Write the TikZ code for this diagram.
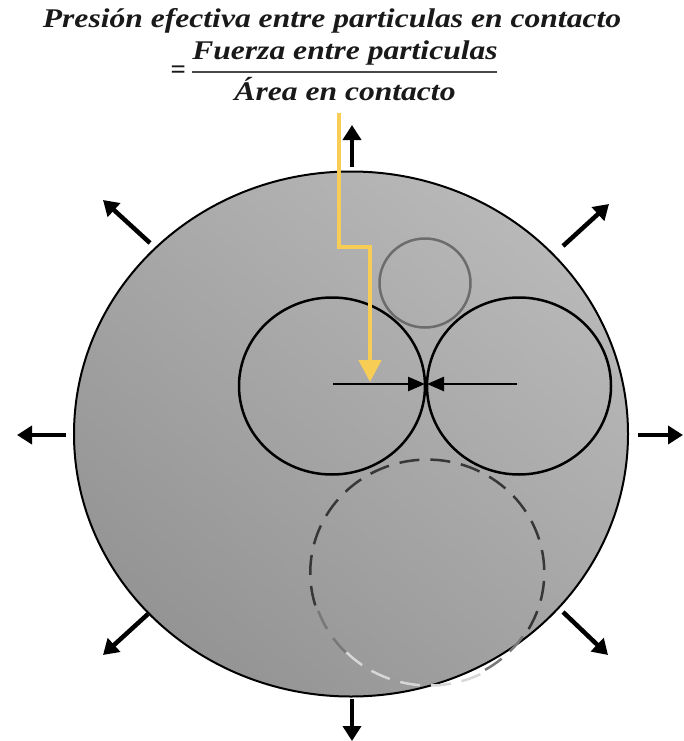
\documentclass[tikz,border=0pt]{standalone}
\usepackage{fontspec}
\setmainfont{Liberation Serif}
\usetikzlibrary{arrows.meta,shapes.geometric}
\definecolor{shLight}{RGB}{184,184,184}
\definecolor{shDark}{RGB}{148,148,148}
\definecolor{ylw}{RGB}{248,205,85}
\definecolor{txt}{RGB}{25,25,25}
\definecolor{dashdark}{RGB}{55,55,55}
\definecolor{dashmid}{RGB}{120,120,120}
\definecolor{dashlight}{RGB}{215,215,215}
\tikzset{
  outarrow/.style={line width=4.5pt, -{Triangle[width=18pt,length=15pt]}},
  contact/.style={line width=2.5pt, -{Triangle[width=14pt,length=17pt]}},
  yarrow/.style={draw=ylw, line width=4.5pt, -{Triangle[width=22pt,length=22pt]}},
  grain/.style={ellipse, draw=black, line width=2.5pt, inner sep=0pt},
  dashgrain/.style={dash pattern=on 20pt off 11pt, line width=2.5pt},
  lbl/.style={text=txt, font=\fontsize{27}{31}\selectfont\bfseries\itshape, inner sep=0pt}
}
\newcommand{\wide}[1]{\scalebox{1.17}[1]{#1}}
\begin{document}
\begin{tikzpicture}[x=1pt,y=-1pt]
\useasboundingbox (0,0) rectangle (683,741);
% outer body
\node[ellipse, draw=black, line width=2pt, inner sep=0pt, minimum width=554pt, minimum height=525pt,
  top color=shLight, bottom color=shDark, shading angle=-40] (outer) at (351,434) {};
% small grain
\node[ellipse, draw=gray!85!black, line width=2.5pt, inner sep=0pt, minimum width=91pt, minimum height=89pt] (small) at (425,283) {};
% dashed grain
\node[ellipse, inner sep=0pt, minimum width=234pt, minimum height=226pt] (dash) at (428,571) {};
\draw[dashgrain, dashdark] (dash.-30) arc[start angle=-30, end angle=200, x radius=117pt, y radius=113pt];
\draw[dashgrain, dashmid] (dash.200) arc[start angle=200, end angle=225, x radius=117pt, y radius=113pt];
\draw[dashgrain, dashlight] (dash.225) arc[start angle=225, end angle=300, x radius=117pt, y radius=113pt];
\draw[dashgrain, dashmid] (dash.300) arc[start angle=300, end angle=330, x radius=117pt, y radius=113pt];
% two grains
\node[grain, minimum width=186pt, minimum height=177pt] (gl) at (332,386) {};
\node[grain, minimum width=184pt, minimum height=177pt] (gr) at (519,386) {};
% contact arrows
\coordinate (cp) at (426,384);
\coordinate (cl) at (333,384);
\coordinate (cr) at (517,384);
\draw[contact] (cl) -- (425,384);
\draw[contact] (cr) -- (427,384);
% outward arrows
\coordinate (t0) at (352,167); \coordinate (t1) at (352,125);
\coordinate (b0) at (352,699); \coordinate (b1) at (352,741);
\coordinate (l0) at (66,435); \coordinate (l1) at (17,435);
\coordinate (r0) at (638,435); \coordinate (r1) at (683,435);
\coordinate (ul0) at (150,243); \coordinate (ul1) at (103,200);
\coordinate (ur0) at (563,246); \coordinate (ur1) at (609,204);
\coordinate (dl0) at (148,614); \coordinate (dl1) at (103,655);
\coordinate (dr0) at (563,612); \coordinate (dr1) at (608,655);
\foreach \a in {t,b,l,r,ul,ur,dl,dr} \draw[outarrow] (\a0) -- (\a1);
% text
\node[lbl] (title) at (332,21) {\wide{Presión efectiva entre particulas en contacto}};
\node[lbl] (eq) at (178,72) {=};
\node[lbl] (num) at (345,53) {\wide{Fuerza entre particulas}};
\node[lbl] (den) at (345,89) {\wide{Área en contacto}};
\coordinate (barL) at (192,72); \coordinate (barR) at (497,72);
\draw[txt!80, line width=1.5pt] (barL) -- (barR);
% yellow pointer
\coordinate (y0) at (339,113); \coordinate (y1) at (339,247);
\coordinate (y2) at (370,247); \coordinate (y3) at (370,382);
\draw[yarrow] (y0) -- (y1) -- (y2) -- (y3);
\end{tikzpicture}
\end{document}
